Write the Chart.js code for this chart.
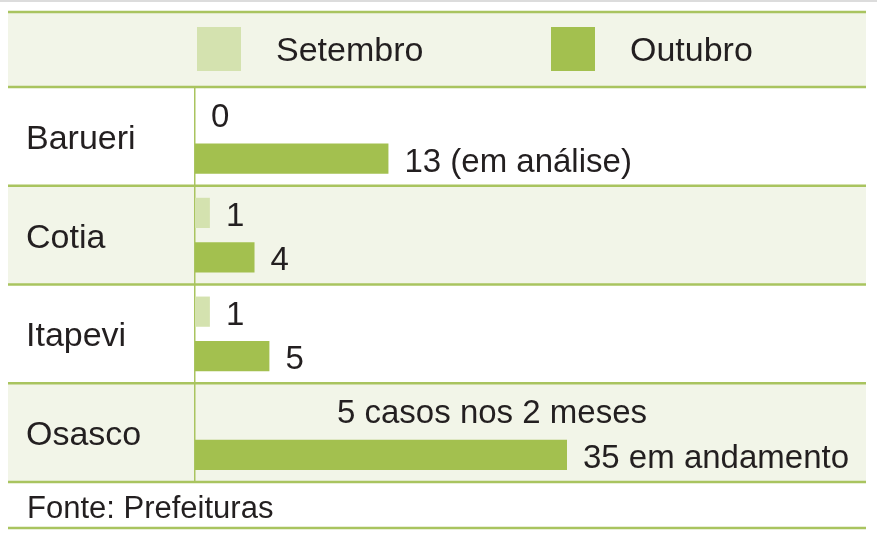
<!DOCTYPE html>
<html>
<head>
<meta charset="utf-8">
<title>Casos por cidade</title>
<script src="https://cdn.jsdelivr.net/npm/chart.js@4.4.1/dist/chart.umd.min.js"></script>
<style>
  html, body { margin: 0; padding: 0; background: #fff; }
  #chart-wrap { width: 877px; height: 537px; position: relative; }
</style>
</head>
<body>
<div id="chart-wrap"><canvas id="js-chartjs-bars"></canvas></div>
<script>
// Chart data
const cities = ['Barueri', 'Cotia', 'Itapevi', 'Osasco'];
const seriesNames = ['Setembro', 'Outubro'];
const setembro = [0, 1, 1, null];
const outubro = [13, 4, 5, 35];
const setembroNotes = ['0', '1', '1', '5 casos nos 2 meses'];
const outubroNotes = ['13 (em análise)', '4', '5', '35 em andamento'];
const sourceNote = 'Fonte: Prefeituras';

// Colours and fonts
const lightGreen = '#d4e2af';
const green = '#a3c04f';
const ruleGreen = '#a9c45f';
const bandColor = '#f2f5e8';
const textColor = '#231f20';
const fontFamily = '"Liberation Sans", Arial, Helvetica, sans-serif';

// Table frame: header band, alternate row bands, green rules
const tableFrame = {
  id: 'tableFrame',
  beforeDraw(chart) {
    const { ctx, chartArea, scales } = chart;
    const y = scales.y;
    const left = 8, right = 866;
    const slot = (chartArea.bottom - chartArea.top) / cities.length;

    ctx.save();
    ctx.fillStyle = '#fff';
    ctx.fillRect(0, 0, chart.width, chart.height);

    // faint page edge on top
    ctx.fillStyle = '#dcdcdc';
    ctx.fillRect(0, 0, chart.width, 2);

    // header band
    ctx.fillStyle = bandColor;
    ctx.fillRect(left, 12, right - left, chartArea.top - 12);

    // row bands
    let rules = [12, chartArea.top];
    cities.forEach((c, i) => {
      const top = y.getPixelForValue(i) - slot / 2;
      if (i % 2 === 1) {
        ctx.fillStyle = bandColor;
        ctx.fillRect(left, top, right - left, slot);
      }
      rules.push(top + slot);
    });
    rules.push(528);

    ctx.strokeStyle = ruleGreen;
    ctx.lineWidth = 2.5;
    rules.forEach(r => {
      ctx.beginPath();
      ctx.moveTo(left, r);
      ctx.lineTo(right, r);
      ctx.stroke();
    });
    ctx.restore();
  },
  afterDraw(chart) {
    const { ctx } = chart;
    ctx.save();

    // legend in the header row
    const legendX = [197, 551];
    chart.data.datasets.forEach((ds, i) => {
      ctx.fillStyle = ds.backgroundColor;
      ctx.fillRect(legendX[i], 27, 44, 44);
      ctx.fillStyle = textColor;
      ctx.font = '34px ' + fontFamily;
      ctx.textBaseline = 'alphabetic';
      ctx.textAlign = 'left';
      ctx.fillText(ds.label, legendX[i] + 79, 61);
    });

    // source line
    ctx.font = '31px ' + fontFamily;
    ctx.fillText(sourceNote, 27, 518);
    ctx.restore();
  }
};

// Value notes next to the bars
const barNotes = {
  id: 'barNotes',
  afterDatasetsDraw(chart) {
    const { ctx, chartArea } = chart;
    const notes = [setembroNotes, outubroNotes];
    ctx.save();
    ctx.fillStyle = textColor;
    ctx.font = '33px ' + fontFamily;
    ctx.textAlign = 'left';
    ctx.textBaseline = 'alphabetic';
    chart.data.datasets.forEach((ds, d) => {
      const meta = chart.getDatasetMeta(d);
      meta.data.forEach((bar, i) => {
        let by = bar.y;
        if (isNaN(by)) by = chart.getDatasetMeta(1).data[i].y - 44;
        let bx;
        if (ds.data[i] === null) {
          bx = chartArea.left + 142;
        } else {
          bx = Math.min(bar.x, chartArea.right) + 16;
        }
        ctx.fillText(notes[d][i], bx, by + 13);
      });
    });
    ctx.restore();
  }
};

let chartBarsCon = document.getElementById('js-chartjs-bars');
let chartBars;

if (chartBarsCon !== null) {
  chartBars = new Chart(chartBarsCon, {
    type: 'bar',
    data: {
      labels: cities,
      datasets: [
        { label: seriesNames[0], data: setembro, backgroundColor: lightGreen },
        { label: seriesNames[1], data: outubro, backgroundColor: green }
      ]
    },
    options: {
      indexAxis: 'y',
      responsive: true,
      maintainAspectRatio: false,
      animation: false,
      layout: { padding: { left: 26, top: 87, right: 310, bottom: 55 } },
      datasets: {
        bar: {
          categoryPercentage: 0.9,
          barPercentage: 0.68,
          borderWidth: 0,
          clip: { left: 4, top: 4, right: 0, bottom: 4 }
        }
      },
      scales: {
        x: { display: false, min: 0, max: 25 },
        y: {
          grid: { display: false },
          border: { display: true, color: ruleGreen, width: 1.5 },
          ticks: {
            color: textColor,
            font: { family: fontFamily, size: 34 },
            crossAlign: 'far',
            padding: 0,
            labelOffset: 3
          },
          afterFit(scale) { scale.width = 169; }
        }
      },
      plugins: {
        legend: { display: false },
        tooltip: { enabled: false }
      }
    },
    plugins: [tableFrame, barNotes]
  });
}
</script>
</body>
</html>
